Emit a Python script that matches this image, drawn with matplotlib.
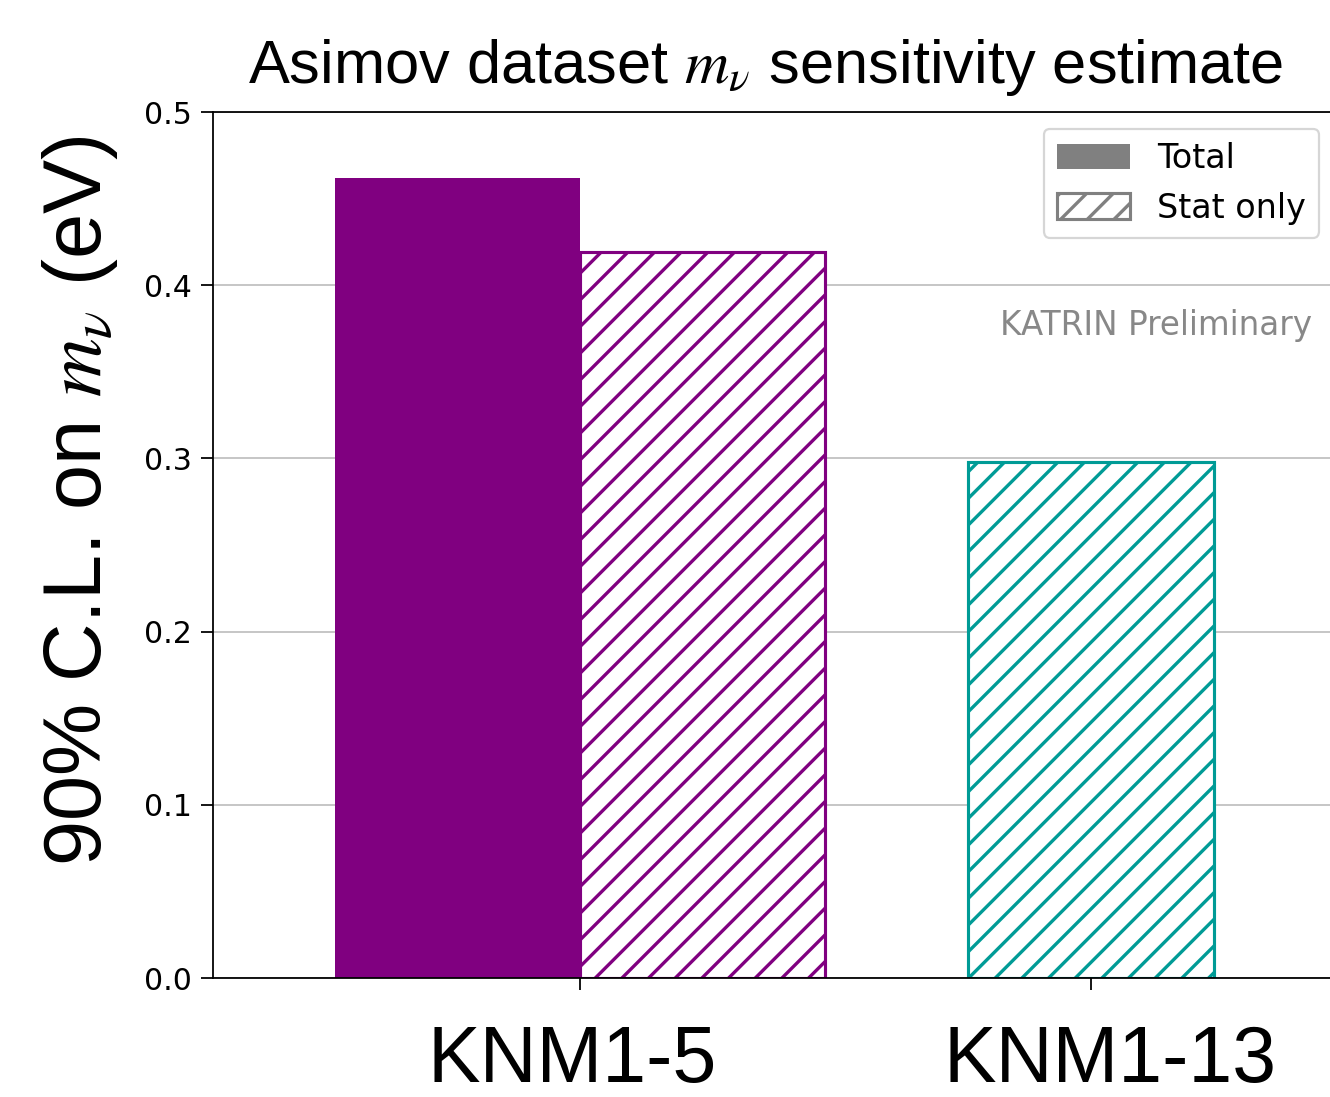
import numpy as np
import matplotlib
matplotlib.use("Agg")
import matplotlib.pyplot as plt
from matplotlib.patches import Patch
from matplotlib.transforms import ScaledTranslation

plt.rcParams['mathtext.fontset'] = 'stix'
plt.rcParams['hatch.linewidth'] = 1.5

# ----- data ----- #
datasets = ['KNM1-5', 'KNM1-13']
total = [0.462, np.nan]        # KNM1-13 has no "Total" result
stat_only = [0.419, 0.298]
colors = ['#800080', '#009b96']
label_shift_px = [-8, 19]      # the big labels sit a bit off their ticks

w = 0.48

fig = plt.figure(figsize=(1330/160, 1097/160), dpi=160)
ax = fig.add_axes([213/1330, 1 - 978/1097, 1123/1330, 866/1097])

for i, name in enumerate(datasets):
    if np.isnan(total[i]):
        ax.bar(i, stat_only[i], w, color='white', edgecolor=colors[i],
               hatch='//', linewidth=1.4, zorder=2)
    else:
        ax.bar(i - w/2, total[i], w, color=colors[i], zorder=2)
        ax.bar(i + w/2, stat_only[i], w, color='white', edgecolor=colors[i],
               hatch='//', linewidth=1.4, zorder=2)

ax.set_xlim(-0.718, 1.479)
ax.set_ylim(0, 0.5)
ax.set_yticks(np.arange(0, 0.51, 0.1))
ax.yaxis.grid(True, color='#b8b8b8', linewidth=0.7)
ax.set_axisbelow(True)
ax.tick_params(axis='y', labelsize=13.5, length=5.5, pad=4)
ax.tick_params(axis='x', length=5.5, pad=15)

ax.set_xticks(range(len(datasets)))
ax.set_xticklabels(datasets, fontsize=35.5, family='Liberation Sans')
for lab, dx in zip(ax.get_xticklabels(), label_shift_px):
    lab.set_transform(lab.get_transform() + ScaledTranslation(dx/160, 0, fig.dpi_scale_trans))

ax.set_ylabel(r'90% C.L. on $m_\nu$ (eV)', fontsize=36.5, family='Liberation Sans', va='center')
ax.yaxis.set_label_coords(-0.118, 0.551)

ax.set_title(r'Asimov dataset $m_\nu$ sensitivity estimate', fontsize=27.6,
             family='Liberation Sans', pad=13, x=0.492)

ax.text(0.979, 0.754, 'KATRIN Preliminary', transform=ax.transAxes,
        ha='right', va='center', fontsize=14.7, color='#888888')

handles = [Patch(facecolor='gray', label='Total'),
           Patch(facecolor='white', edgecolor='gray', hatch='//', linewidth=1.4, label='Stat only')]
ax.legend(handles=handles, loc='upper right', fontsize=15,
          handlelength=2.2, handleheight=0.8)

fig.savefig('out.png', dpi=160)
